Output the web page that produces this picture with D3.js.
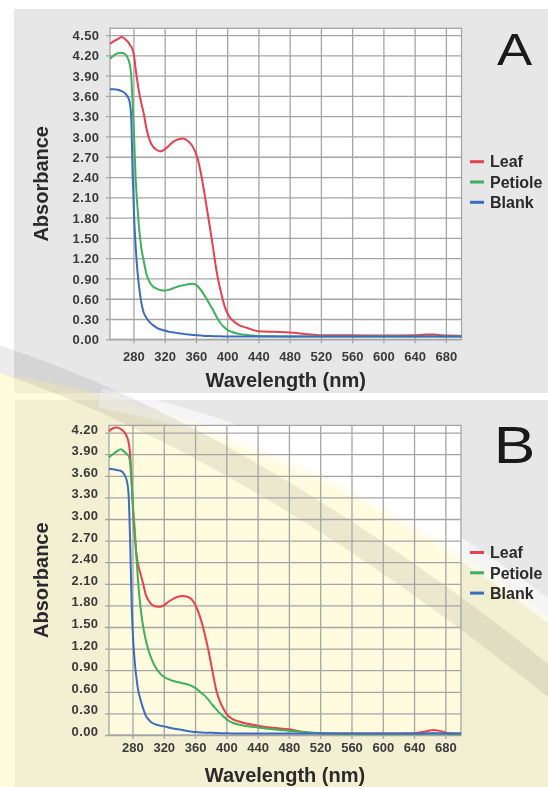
<!DOCTYPE html>
<html>
<head>
<meta charset="utf-8">
<script src="https://cdn.jsdelivr.net/npm/d3@7"></script>
<style>
  body { margin: 0; background: #fff; }
  svg text { font-family: "Liberation Sans", Arial, sans-serif; }
</style>
</head>
<body>
<svg id="chart" width="548" height="787"></svg>
<script>
// wavelength grid (nm) shared by all spectra
var wl = [250, 255, 260, 265, 270, 273, 275, 277, 279, 281, 283, 285, 287, 290, 293, 297, 301, 305, 310, 315,
          320, 326, 332, 338, 344, 350, 356, 362, 367, 372, 377, 382, 387, 392, 397, 402, 408, 415, 425, 440,
          460, 480, 500, 520, 560, 600, 640, 655, 665, 675, 685, 700];

// panel A absorbance
var leafA = [4.37, 4.41, 4.44, 4.47, 4.43, 4.40, 4.36, 4.33, 4.28, 4.18, 3.98, 3.82, 3.67, 3.50, 3.35, 3.10, 2.94, 2.85, 2.80, 2.78,
             2.81, 2.87, 2.93, 2.96, 2.97, 2.93, 2.85, 2.68, 2.42, 2.08, 1.72, 1.35, 0.97, 0.70, 0.48, 0.35, 0.27, 0.21, 0.17, 0.12,
             0.11, 0.10, 0.08, 0.06, 0.06, 0.055, 0.06, 0.07, 0.07, 0.06, 0.055, 0.05];
var petioleA = [4.15, 4.20, 4.23, 4.24, 4.21, 4.15, 4.08, 3.92, 3.50, 2.95, 2.35, 1.98, 1.68, 1.36, 1.17, 0.95, 0.84, 0.78, 0.75, 0.725,
                0.72, 0.735, 0.76, 0.785, 0.80, 0.815, 0.82, 0.79, 0.72, 0.63, 0.53, 0.43, 0.32, 0.23, 0.17, 0.13, 0.10, 0.08, 0.065, 0.05,
                0.045, 0.04, 0.04, 0.04, 0.04, 0.04, 0.04, 0.045, 0.045, 0.04, 0.04, 0.04];
var blankA = [3.70, 3.70, 3.69, 3.67, 3.63, 3.58, 3.52, 3.32, 2.45, 1.78, 1.35, 1.03, 0.80, 0.55, 0.40, 0.31, 0.25, 0.21, 0.17, 0.145,
              0.13, 0.11, 0.10, 0.09, 0.08, 0.07, 0.065, 0.06, 0.055, 0.05, 0.05, 0.045, 0.045, 0.045, 0.04, 0.04, 0.04, 0.04, 0.04, 0.04,
              0.04, 0.04, 0.04, 0.04, 0.04, 0.04, 0.04, 0.04, 0.04, 0.04, 0.04, 0.04];

// panel B absorbance
var leafB = [4.22, 4.26, 4.27, 4.25, 4.20, 4.14, 4.07, 3.90, 3.52, 3.06, 2.75, 2.52, 2.38, 2.25, 2.13, 1.95, 1.86, 1.81, 1.785, 1.78,
             1.80, 1.85, 1.89, 1.92, 1.93, 1.92, 1.88, 1.77, 1.62, 1.42, 1.18, 0.90, 0.63, 0.46, 0.35, 0.27, 0.22, 0.19, 0.16, 0.13,
             0.10, 0.08, 0.04, 0.025, 0.02, 0.02, 0.025, 0.05, 0.07, 0.05, 0.025, 0.02];
var petioleB = [3.86, 3.90, 3.94, 3.97, 3.93, 3.90, 3.88, 3.78, 3.48, 3.12, 2.85, 2.48, 2.16, 1.80, 1.55, 1.32, 1.16, 1.04, 0.93, 0.86,
                0.81, 0.775, 0.75, 0.735, 0.72, 0.705, 0.68, 0.64, 0.595, 0.55, 0.49, 0.42, 0.36, 0.30, 0.25, 0.205, 0.17, 0.145, 0.125, 0.105,
                0.08, 0.06, 0.04, 0.025, 0.015, 0.015, 0.015, 0.02, 0.025, 0.02, 0.015, 0.01];
var blankB = [3.70, 3.69, 3.68, 3.67, 3.61, 3.52, 3.35, 2.70, 1.80, 1.30, 1.00, 0.80, 0.64, 0.50, 0.39, 0.27, 0.21, 0.17, 0.145, 0.13,
              0.12, 0.105, 0.09, 0.08, 0.07, 0.055, 0.046, 0.04, 0.036, 0.033, 0.03, 0.03, 0.028, 0.025, 0.025, 0.025, 0.02, 0.02, 0.02, 0.02,
              0.02, 0.02, 0.02, 0.02, 0.02, 0.02, 0.02, 0.02, 0.02, 0.02, 0.02, 0.02];

var seriesNames = ["Leaf", "Petiole", "Blank"];
var seriesColors = ["#e8404f", "#3db15a", "#3b6cc0"];

var xTicks = [280, 320, 360, 400, 440, 480, 520, 560, 600, 640, 680];
var yTicksA = [0, 0.3, 0.6, 0.9, 1.2, 1.5, 1.8, 2.1, 2.4, 2.7, 3.0, 3.3, 3.6, 3.9, 4.2, 4.5];
var yTicksB = [0, 0.3, 0.6, 0.9, 1.2, 1.5, 1.8, 2.1, 2.4, 2.7, 3.0, 3.3, 3.6, 3.9, 4.2];

var svg = d3.select("#chart");
var bgLayer = svg.append("g");
var wmLayer = svg.append("g");
var fgLayer = svg.append("g");

var panels = [
  { letter: "A", bx: 14, by: 9, bw: 534, bh: 384,
    left: 110, right: 461.5, top: 28.3, bottom: 339.3, yMax: 4.6,
    yTicks: yTicksA, labelShift: 0, xLabelY: 361.5, xTitleY: 386.5,
    legendY: 161.7, letterY: 65, letterSize: 44,
    data: [leafA, petioleA, blankA] },
  { letter: "B", bx: 15, by: 400, bw: 533, bh: 387,
    left: 109, right: 461, top: 425.4, bottom: 735, yMax: 4.3,
    yTicks: yTicksB, labelShift: -4, xLabelY: 752, xTitleY: 781.5,
    legendY: 552.5, letterY: 463, letterSize: 52,
    data: [leafB, petioleB, blankB] }
];

panels.forEach(function (p) {
  // grey card + white plot area
  bgLayer.append("rect")
    .attr("x", p.bx).attr("y", p.by).attr("width", p.bw).attr("height", p.bh)
    .attr("fill", "#e7e7e7");
  bgLayer.append("rect")
    .attr("x", p.left).attr("y", p.top)
    .attr("width", p.right - p.left).attr("height", p.bottom - p.top)
    .attr("fill", "#fff");
});

// faint watermark that sits over the lower panel
wmLayer.append("path")
  .attr("d", "M-10,372 Q300,420 560,625 L560,800 L-10,800 Z")
  .attr("fill", "#fff8c0").attr("opacity", 0.5);
wmLayer.append("path")
  .attr("d", "M100,398 Q330,440 560,620")
  .attr("fill", "none").attr("stroke", "#fff").attr("stroke-width", 20).attr("opacity", 0.6);
wmLayer.append("path")
  .attr("d", "M-10,356 Q250,440 560,690")
  .attr("fill", "none").attr("stroke", "#8a8a8a").attr("stroke-width", 26).attr("opacity", 0.17)
  .style("mix-blend-mode", "multiply");

panels.forEach(function (p) {
  var x = d3.scaleLinear().domain([250, 700]).range([p.left, p.right]);
  var y = d3.scaleLinear().domain([0, p.yMax]).range([p.bottom, p.top]);
  var g = fgLayer.append("g");

  // horizontal grid + y labels
  var ya = g.append("g")
    .attr("transform", "translate(" + p.left + ",0)")
    .call(d3.axisLeft(y).tickValues(p.yTicks).tickFormat(d3.format(".2f"))
      .tickSize(-(p.right - p.left)).tickSizeOuter(0));
  ya.select(".domain").remove();
  ya.selectAll("line").attr("x1", -4).attr("stroke", "#a5a5a5").attr("stroke-width", 1.3);
  ya.selectAll("text")
    .attr("x", -10.5).attr("y", p.labelShift).attr("dy", "0.35em")
    .attr("font-family", "Liberation Sans, Arial, sans-serif")
    .attr("font-size", 13).attr("font-weight", "bold").attr("fill", "#3a3a3a")
    .attr("letter-spacing", 0.4);

  // vertical grid + x labels
  var xa = g.append("g")
    .attr("transform", "translate(0," + p.bottom + ")")
    .call(d3.axisBottom(x).tickValues(xTicks).tickSize(-(p.bottom - p.top)).tickSizeOuter(0));
  xa.select(".domain").remove();
  xa.selectAll("line").attr("y1", 4).attr("stroke", "#a5a5a5").attr("stroke-width", 1.3);
  xa.selectAll("text")
    .attr("y", p.xLabelY - p.bottom).attr("dy", 0)
    .attr("font-family", "Liberation Sans, Arial, sans-serif")
    .attr("font-size", 13).attr("font-weight", "bold").attr("fill", "#3a3a3a");

  // plot frame
  g.append("rect")
    .attr("x", p.left).attr("y", p.top)
    .attr("width", p.right - p.left).attr("height", p.bottom - p.top)
    .attr("fill", "none").attr("stroke", "#a5a5a5").attr("stroke-width", 1.3);

  // spectra
  var line = d3.line()
    .x(function (d) { return x(d[0]); })
    .y(function (d) { return y(d[1]); })
    .curve(d3.curveMonotoneX);
  p.data.forEach(function (vals, i) {
    g.append("path")
      .datum(d3.zip(wl, vals))
      .attr("d", line)
      .attr("fill", "none")
      .attr("stroke", seriesColors[i])
      .attr("stroke-width", 2);
  });

  // axis titles
  g.append("text")
    .attr("x", (p.left + p.right) / 2).attr("y", p.xTitleY)
    .attr("text-anchor", "middle")
    .attr("font-size", 20).attr("font-weight", "bold").attr("fill", "#2a2a2a")
    .text("Wavelength (nm)");
  g.append("text")
    .attr("transform", "translate(41," + ((p.top + p.bottom) / 2) + ") rotate(-90)")
    .attr("text-anchor", "middle").attr("dy", "0.35em")
    .attr("font-size", 20).attr("font-weight", "bold").attr("fill", "#2a2a2a")
    .text("Absorbance");

  // legend
  seriesNames.forEach(function (name, i) {
    var ly = p.legendY + i * 20.3;
    g.append("line")
      .attr("x1", 470).attr("x2", 484).attr("y1", ly).attr("y2", ly)
      .attr("stroke", seriesColors[i]).attr("stroke-width", 3);
    g.append("text")
      .attr("x", 490).attr("y", ly).attr("dy", "0.36em")
      .attr("font-size", 16).attr("font-weight", "bold").attr("fill", "#2a2a2a")
      .text(name);
  });

  // panel letter
  g.append("text")
    .attr("transform", "translate(514.5," + p.letterY + ") scale(1.2,1)")
    .attr("text-anchor", "middle")
    .attr("font-size", p.letterSize).attr("fill", "#1a1a1a")
    .text(p.letter);
});
</script>
</body>
</html>
